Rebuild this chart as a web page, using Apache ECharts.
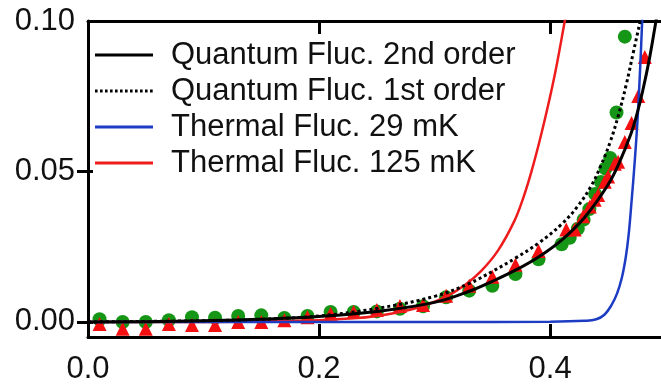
<!DOCTYPE html>
<html>
<head>
<meta charset="utf-8">
<script src="https://cdn.jsdelivr.net/npm/echarts@6/dist/echarts.min.js"></script>
<style>
html, body { margin: 0; padding: 0; background: #fff; }
#chart { width: 661px; height: 385px; }
</style>
</head>
<body>
<div id="chart"></div>
<script>
// tick labels
var xTicks = [0, 0.2, 0.4];
var yTicks = [0, 0.05, 0.1];

// theory curves, [x, y]
var quantum2nd = [[0, 0], [0.05, 0.0001], [0.10, 0.0004], [0.15, 0.0009], [0.20, 0.0018], [0.25, 0.0035],
    [0.30, 0.0065], [0.33, 0.0102], [0.35, 0.0135], [0.37, 0.0172], [0.39, 0.0216], [0.41, 0.0272],
    [0.43, 0.0348], [0.45, 0.0455], [0.46, 0.053], [0.47, 0.0625], [0.475, 0.0688], [0.48, 0.0765],
    [0.486, 0.0875], [0.491, 0.0985], [0.493, 0.103]];
var quantum1st = [[0, 0], [0.10, 0.0004], [0.15, 0.0009], [0.20, 0.002], [0.25, 0.0045], [0.30, 0.0085],
    [0.33, 0.0128], [0.35, 0.0168], [0.37, 0.0212], [0.39, 0.0262], [0.41, 0.0325], [0.424, 0.0385],
    [0.436, 0.0455], [0.444, 0.052], [0.452, 0.0598], [0.459, 0.0685], [0.466, 0.079], [0.472, 0.0895],
    [0.478, 0.1], [0.481, 0.106]];
var thermal29 = [[0, 0], [0.10, 0], [0.20, 0], [0.30, 0], [0.40, 0.0001], [0.43, 0.0004], [0.44, 0.0009],
    [0.447, 0.0024], [0.453, 0.0055], [0.458, 0.0095], [0.462, 0.0145], [0.4655, 0.0215], [0.468, 0.029],
    [0.4705, 0.04], [0.473, 0.052], [0.4755, 0.066], [0.4778, 0.083], [0.4797, 0.1], [0.4802, 0.105]];
var thermal125 = [[0, 0], [0.10, 0], [0.15, 0.0002], [0.20, 0.0006], [0.23, 0.0012], [0.25, 0.002],
    [0.27, 0.0033], [0.29, 0.0053], [0.31, 0.0084], [0.326, 0.0122], [0.34, 0.0168], [0.355, 0.0238],
    [0.369, 0.0335], [0.377, 0.0415], [0.384, 0.0502], [0.391, 0.0603], [0.398, 0.0715], [0.405, 0.084],
    [0.412, 0.0985], [0.415, 0.105]];

// measured points
var greenPts = [[0.01, 0.0009], [0.03, 0], [0.05, 0], [0.07, 0.0006], [0.09, 0.0016], [0.11, 0.0014],
    [0.13, 0.002], [0.15, 0.0022], [0.17, 0.0013], [0.19, 0.002], [0.21, 0.0033], [0.23, 0.0033],
    [0.25, 0.0035], [0.27, 0.0044], [0.29, 0.0052], [0.31, 0.0082], [0.33, 0.0104], [0.35, 0.012],
    [0.37, 0.0159], [0.39, 0.0208], [0.41, 0.0258], [0.417, 0.028], [0.424, 0.031], [0.429, 0.034],
    [0.434, 0.0375], [0.439, 0.0425], [0.444, 0.0465], [0.448, 0.051], [0.452, 0.0545],
    [0.4575, 0.0696], [0.4647, 0.0948]];
var redPts = [[0.01, -0.0007], [0.03, -0.0023], [0.05, -0.0023], [0.07, -0.0007], [0.09, -0.001],
    [0.11, -0.001], [0.13, 0], [0.15, 0], [0.17, 0.0006], [0.19, 0.0016], [0.21, 0.0027], [0.23, 0.0033],
    [0.25, 0.004], [0.27, 0.0053], [0.29, 0.0056], [0.31, 0.0087], [0.33, 0.012], [0.35, 0.015],
    [0.37, 0.019], [0.39, 0.0236], [0.414, 0.0307], [0.4213, 0.0307], [0.4286, 0.0351], [0.4344, 0.0384],
    [0.4386, 0.0406], [0.4416, 0.0422], [0.4473, 0.0466], [0.4502, 0.0483], [0.456, 0.0526],
    [0.4589, 0.0532], [0.4647, 0.0598], [0.4705, 0.0661], [0.4763, 0.0751], [0.482, 0.088]];

var names = ['Quantum Fluc. 2nd order', 'Quantum Fluc. 1st order', 'Thermal Fluc. 29 mK', 'Thermal Fluc. 125 mK'];

var font = "'Liberation Sans', Arial, sans-serif";
var chart = echarts.init(document.getElementById('chart'));

var frameLine = { show: true, onZero: false, lineStyle: { color: '#000', width: 3 } };

// legend icons: plain bar, and a row of dots for the dotted curve
var dots = '';
for (var i = 0; i < 12; i++) {
    dots += 'M' + (i * 5) + ' 0h2.6v3h-2.6z';
}
var dotIcon = 'path://' + dots + 'M57.9 0h0.1v3h-0.1z';

function smoothLine(name, data, color, width, type) {
    return {
        name: name, type: 'line', data: data, smooth: 0.4, symbol: 'none',
        lineStyle: { color: color, width: width, type: type || 'solid' }, itemStyle: { color: color }
    };
}

// the right edge of the frame sits just outside the picture
var xMax = 0.496;

chart.setOption({
    animation: false,
    grid: { left: 88, right: 0, top: 21, bottom: 45, containLabel: false },
    legend: {
        data: [
            { name: names[0], icon: 'rect' },
            { name: names[1], icon: dotIcon },
            { name: names[2], icon: 'rect' },
            { name: names[3], icon: 'rect' }
        ],
        orient: 'vertical',
        left: 95,
        top: 37,
        padding: 0,
        itemGap: 0,
        itemWidth: 58,
        itemHeight: 3,
        textStyle: { fontFamily: font, fontSize: 31, color: '#111', lineHeight: 36, padding: [0, 0, 0, 13] }
    },
    xAxis: [{
        type: 'value', min: 0, max: xMax, position: 'bottom',
        axisLine: frameLine,
        axisTick: { inside: true, length: 13, customValues: xTicks, lineStyle: { color: '#000', width: 3 } },
        axisLabel: { customValues: xTicks, fontFamily: font, fontSize: 31, color: '#111', margin: 17,
            formatter: function (v) { return v.toFixed(1); } },
        splitLine: { show: false }
    }, {
        type: 'value', min: 0, max: xMax, position: 'top',
        axisLine: frameLine,
        axisTick: { inside: true, length: 13, customValues: xTicks.slice(1), lineStyle: { color: '#000', width: 3 } },
        axisLabel: { show: false },
        splitLine: { show: false }
    }],
    yAxis: [{
        type: 'value', min: -0.005, max: 0.1, position: 'left',
        axisLine: frameLine,
        axisTick: { inside: true, length: 5, customValues: yTicks, lineStyle: { color: '#000', width: 3 } },
        axisLabel: { customValues: yTicks, fontFamily: font, fontSize: 31, color: '#111', margin: 13,
            formatter: function (v) { return v.toFixed(2); } },
        splitLine: { show: false }
    }, {
        type: 'value', min: -0.005, max: 0.1, position: 'right',
        axisLine: { show: false },
        axisTick: { show: true, inside: true, length: 11, customValues: yTicks.slice(0, 2), lineStyle: { color: '#000', width: 3 } },
        axisLabel: { show: false },
        splitLine: { show: false }
    }],
    series: [
        smoothLine(names[3], thermal125, '#ee1c1c', 2.5),
        smoothLine(names[2], thermal29, '#1c3cc4', 2.5),
        smoothLine(names[1], quantum1st, '#000', 3, [3, 3]),
        smoothLine(names[0], quantum2nd, '#000', 3),
        {
            name: 'green', type: 'scatter', data: greenPts, symbol: 'circle', symbolSize: 14,
            itemStyle: { color: '#169616', opacity: 1 }
        },
        {
            name: 'red', type: 'scatter', data: redPts, symbol: 'triangle', symbolSize: 14,
            itemStyle: { color: '#f41010', opacity: 1 }
        }
    ]
});
</script>
</body>
</html>
